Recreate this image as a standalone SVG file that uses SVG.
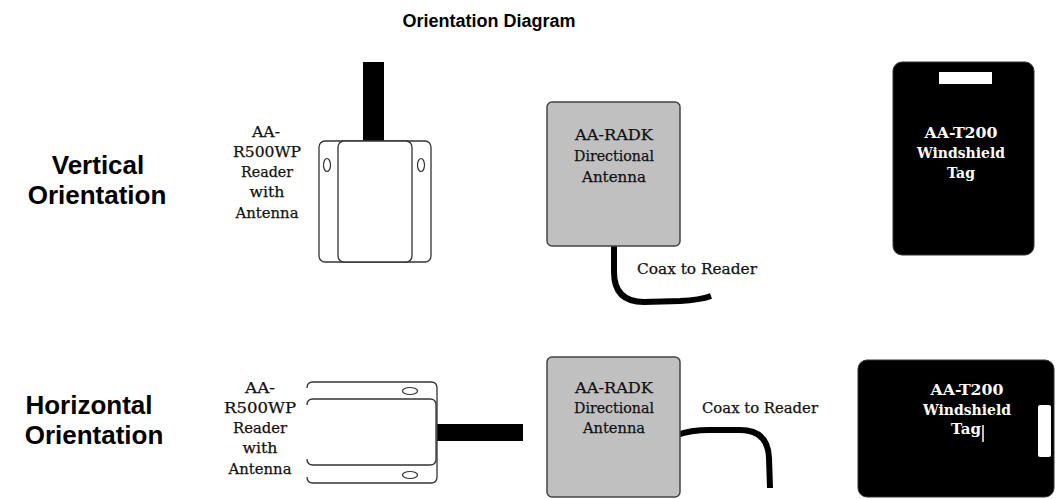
<svg xmlns="http://www.w3.org/2000/svg" width="1056" height="499" viewBox="0 0 1056 499">
  <style>
    .title { font-family: "Liberation Sans", Arial, sans-serif; font-weight: bold; font-size: 18px; fill: #000; }
    .side { font-family: "Liberation Sans", Arial, sans-serif; font-weight: bold; font-size: 26px; fill: #000; }
    .lbl { font-family: "DejaVu Serif", "Liberation Serif", serif; font-size: 15px; fill: #111; stroke: #111; stroke-width: 0.25; }
    .tagtxt { font-family: "DejaVu Serif", "Liberation Serif", serif; font-size: 15px; font-weight: bold; fill: #fff; }
    .case { fill: #fff; stroke: #333; stroke-width: 1.3; }
    .open { fill: none; stroke: #333; stroke-width: 1.3; }
    .hole { fill: #fff; stroke: #333; stroke-width: 1.2; }
    .bar { fill: #000; }
    .antenna { fill: #c0c0c0; stroke: #444; stroke-width: 1.5; }
    .tag { fill: #000; stroke: #333; stroke-width: 1; }
    .slot { fill: #fff; }
    .coax { fill: none; stroke: #000; stroke-width: 6; stroke-linecap: butt; stroke-linejoin: round; }
  </style>

  <rect width="1056" height="499" fill="#fff"/>

  <text class="title" x="489" y="27" text-anchor="middle">Orientation Diagram</text>

  <g id="row-labels">
    <text class="side" x="98" y="174" text-anchor="middle">Vertical</text>
    <text class="side" x="97" y="204" text-anchor="middle">Orientation</text>
    <text class="side" x="89" y="414" text-anchor="middle">Horizontal</text>
    <text class="side" x="94" y="444" text-anchor="middle">Orientation</text>
  </g>

  <!-- cables -->
  <g id="connectors">
    <path class="coax" d="M614,246 L614,272 Q614,302 644,302 L680,301 Q700,300 711,296"/>
    <path class="coax" d="M677,435 Q690,430 710,430 L740,430 Q768,430 769,458 L770,488"/>
  </g>

  <!-- reader, upright -->
  <g id="reader-vertical">
    <rect class="bar" x="363" y="62" width="21" height="81"/>
    <rect class="case" x="319" y="141" width="112" height="121" rx="6"/>
    <rect class="case" x="338" y="141" width="74" height="121" rx="6"/>
    <ellipse class="hole" cx="327" cy="165" rx="3.5" ry="6.5"/>
    <ellipse class="hole" cx="421" cy="165" rx="3.5" ry="6.5"/>
    <text class="lbl" x="266" y="137" text-anchor="middle" textLength="28" lengthAdjust="spacingAndGlyphs">AA-</text>
    <text class="lbl" x="267" y="157" text-anchor="middle" textLength="68" lengthAdjust="spacingAndGlyphs">R500WP</text>
    <text class="lbl" x="267" y="177" text-anchor="middle" textLength="52" lengthAdjust="spacingAndGlyphs">Reader</text>
    <text class="lbl" x="267" y="197" text-anchor="middle" textLength="35" lengthAdjust="spacingAndGlyphs">with</text>
    <text class="lbl" x="267" y="218" text-anchor="middle" textLength="63" lengthAdjust="spacingAndGlyphs">Antenna</text>
  </g>

  <!-- antenna, upright -->
  <g id="antenna-vertical">
    <rect class="antenna" x="547" y="102" width="133" height="144" rx="5"/>
    <text class="lbl" x="614" y="140" text-anchor="middle" textLength="78" lengthAdjust="spacingAndGlyphs">AA-RADK</text>
    <text class="lbl" x="614" y="161" text-anchor="middle" textLength="80" lengthAdjust="spacingAndGlyphs">Directional</text>
    <text class="lbl" x="614" y="182" text-anchor="middle" textLength="64" lengthAdjust="spacingAndGlyphs">Antenna</text>
    <text class="lbl" x="637" y="274" textLength="120" lengthAdjust="spacingAndGlyphs">Coax to Reader</text>
  </g>

  <!-- tag, upright -->
  <g id="tag-vertical">
    <rect class="tag" x="893" y="62" width="141" height="193" rx="9"/>
    <rect class="slot" x="939" y="72" width="53" height="12"/>
    <text class="tagtxt" x="961" y="138" text-anchor="middle" textLength="73" lengthAdjust="spacingAndGlyphs">AA-T200</text>
    <text class="tagtxt" x="961" y="158" text-anchor="middle" textLength="88" lengthAdjust="spacingAndGlyphs">Windshield</text>
    <text class="tagtxt" x="961" y="178" text-anchor="middle" textLength="28" lengthAdjust="spacingAndGlyphs">Tag</text>
  </g>

  <!-- reader, on its side -->
  <g id="reader-horizontal">
    <rect class="bar" x="437" y="424" width="86" height="17"/>
    <path class="open" d="M307,388 Q307,382 313,382 H431 Q437,382 437,388 V477 Q437,483 431,483 H313 Q307,483 307,477"/>
    <path class="open" d="M307,405 Q307,399 313,399 H430 Q436,399 436,405 V459 Q436,465 430,465 H313 Q307,465 307,459"/>
    <ellipse class="hole" cx="410" cy="391" rx="7.5" ry="3.5"/>
    <ellipse class="hole" cx="410" cy="475" rx="7.5" ry="3.5"/>
    <text class="lbl" x="260" y="393" text-anchor="middle" textLength="30" lengthAdjust="spacingAndGlyphs">AA-</text>
    <text class="lbl" x="260" y="413" text-anchor="middle" textLength="72" lengthAdjust="spacingAndGlyphs">R500WP</text>
    <text class="lbl" x="260" y="433" text-anchor="middle" textLength="54" lengthAdjust="spacingAndGlyphs">Reader</text>
    <text class="lbl" x="260" y="453" text-anchor="middle" textLength="35" lengthAdjust="spacingAndGlyphs">with</text>
    <text class="lbl" x="260" y="474" text-anchor="middle" textLength="63" lengthAdjust="spacingAndGlyphs">Antenna</text>
  </g>

  <!-- antenna, on its side -->
  <g id="antenna-horizontal">
    <rect class="antenna" x="547" y="357" width="133" height="140" rx="5"/>
    <text class="lbl" x="614" y="393" text-anchor="middle" textLength="78" lengthAdjust="spacingAndGlyphs">AA-RADK</text>
    <text class="lbl" x="614" y="413" text-anchor="middle" textLength="80" lengthAdjust="spacingAndGlyphs">Directional</text>
    <text class="lbl" x="614" y="433" text-anchor="middle" textLength="62" lengthAdjust="spacingAndGlyphs">Antenna</text>
    <text class="lbl" x="702" y="413" textLength="116" lengthAdjust="spacingAndGlyphs">Coax to Reader</text>
  </g>

  <!-- tag, on its side -->
  <g id="tag-horizontal">
    <rect class="tag" x="858" y="360" width="196" height="137" rx="9"/>
    <rect class="slot" x="1038" y="405" width="13" height="52" rx="2"/>
    <text class="tagtxt" x="967" y="395" text-anchor="middle" textLength="73" lengthAdjust="spacingAndGlyphs">AA-T200</text>
    <text class="tagtxt" x="967" y="415" text-anchor="middle" textLength="88" lengthAdjust="spacingAndGlyphs">Windshield</text>
    <text class="tagtxt" x="966" y="434" text-anchor="middle" textLength="30" lengthAdjust="spacingAndGlyphs">Tag</text>
    <line x1="983" y1="425" x2="983" y2="442" stroke="#fff" stroke-width="1.5"/>
  </g>
</svg>
